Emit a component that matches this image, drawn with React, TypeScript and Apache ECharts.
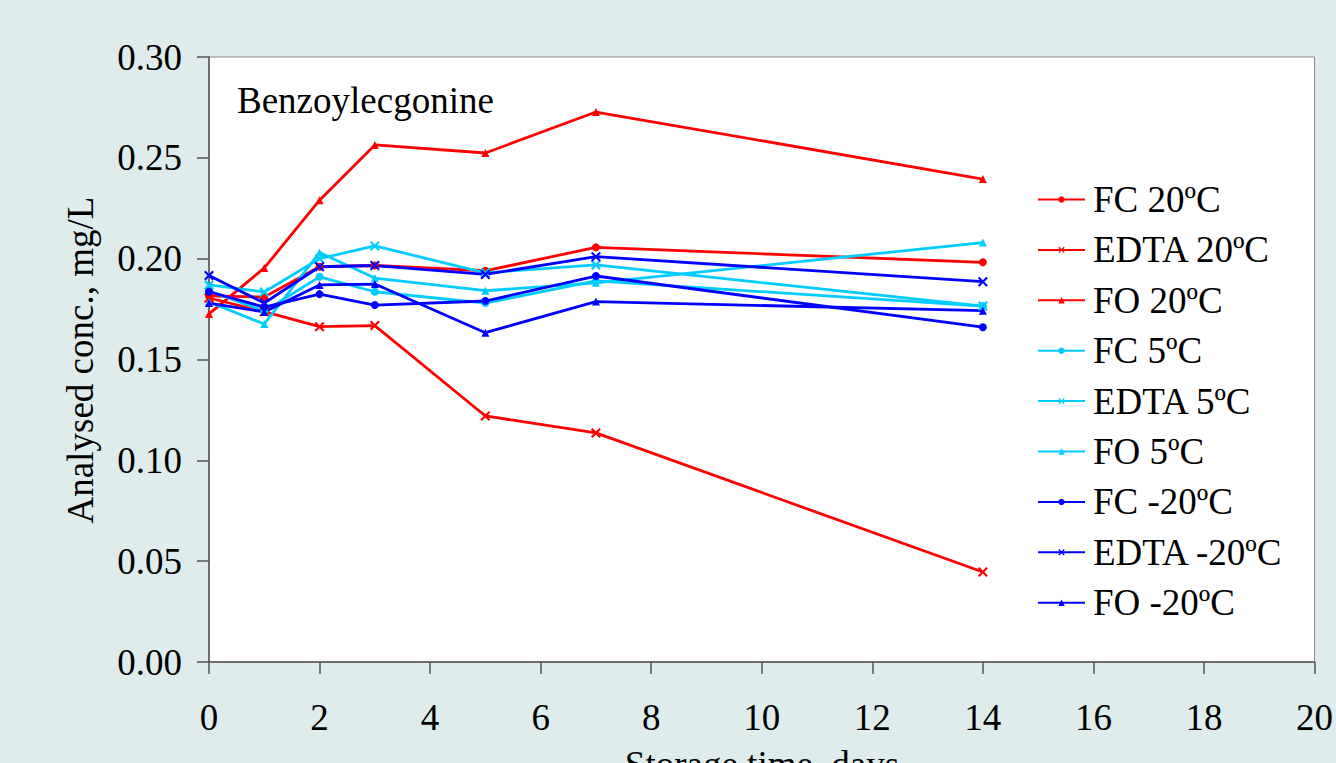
import React, { useEffect, useRef } from "react";
import * as echarts from "echarts";

const days = [0, 1, 2, 3, 5, 7, 14];

const fc20 = [0.1815, 0.181, 0.196, 0.1966, 0.194, 0.2056, 0.1982];
const edta20 = [0.1805, 0.1737, 0.1663, 0.1668, 0.122, 0.1136, 0.0446];
const fo20 = [0.1726, 0.1954, 0.229, 0.2564, 0.2524, 0.2727, 0.2395];
const fc5 = [0.184, 0.174, 0.191, 0.1836, 0.178, 0.189, 0.1765];
const edta5 = [0.187, 0.1835, 0.2, 0.2063, 0.193, 0.1969, 0.1765];
const fo5 = [0.1785, 0.1676, 0.203, 0.1904, 0.1841, 0.188, 0.208];
const fcm20 = [0.1836, 0.176, 0.1824, 0.177, 0.179, 0.1914, 0.166];
const edtam20 = [0.1916, 0.178, 0.196, 0.1966, 0.1922, 0.201, 0.1886];
const fom20 = [0.178, 0.1736, 0.187, 0.1874, 0.1633, 0.1787, 0.1742];

const seriesNames = [
  "FC 20ºC",
  "EDTA 20ºC",
  "FO 20ºC",
  "FC 5ºC",
  "EDTA 5ºC",
  "FO 5ºC",
  "FC -20ºC",
  "EDTA -20ºC",
  "FO -20ºC",
];
const seriesValues = [fc20, edta20, fo20, fc5, edta5, fo5, fcm20, edtam20, fom20];

const RED = "#ff0000";
const CYAN = "#00ccff";
const BLUE = "#0000ff";
const seriesColors = [RED, RED, RED, CYAN, CYAN, CYAN, BLUE, BLUE, BLUE];

const CROSS =
  "path://M0,1.5 L1.5,0 L5,3.5 L8.5,0 L10,1.5 L6.5,5 L10,8.5 L8.5,10 L5,6.5 L1.5,10 L0,8.5 L3.5,5 Z";
const seriesSymbols = [
  "circle", CROSS, "triangle",
  "circle", CROSS, "triangle",
  "circle", CROSS, "triangle",
];
const symbolSizes: Record<string, number> = { circle: 8, triangle: 8, cross: 10 };

const FONT = "'Liberation Serif', 'Times New Roman', serif";

export default function App() {
  const ref = useRef<HTMLDivElement>(null);

  useEffect(() => {
    if (!ref.current) return;
    const chart = echarts.init(ref.current, undefined, { renderer: "svg" });

    const series = seriesNames.map((name, i) => {
      const sym = seriesSymbols[i];
      const key = sym === CROSS ? "cross" : sym;
      return {
        name,
        type: "line",
        data: days.map((d, j) => [d, seriesValues[i][j]]),
        symbol: sym,
        symbolSize: symbolSizes[key],
        showAllSymbol: true,
        lineStyle: { color: seriesColors[i], width: 2.8 },
        itemStyle: { color: seriesColors[i] },
        emphasis: { disabled: true },
      };
    });

    chart.setOption({
      animation: false,
      backgroundColor: "#deecec",
      textStyle: { fontFamily: FONT },
      grid: {
        left: 209,
        top: 57,
        right: 20,
        bottom: 101,
        show: true,
        backgroundColor: "#ffffff",
        borderColor: "#888888",
        borderWidth: 1,
      },
      xAxis: {
        type: "value",
        min: 0,
        max: 20,
        interval: 2,
        axisLine: { show: true, lineStyle: { color: "#555555", width: 1.5 } },
        axisTick: { show: true, length: 12, lineStyle: { color: "#555555", width: 1.5 } },
        splitLine: { show: false },
        axisLabel: {
          color: "#000",
          fontFamily: FONT,
          fontSize: 37,
          margin: 37,
          showMaxLabel: true,
        },
      },
      yAxis: {
        type: "value",
        min: 0,
        max: 0.3,
        interval: 0.05,
        axisLine: { show: true, lineStyle: { color: "#555555", width: 1.5 } },
        axisTick: { show: true, length: 12, lineStyle: { color: "#555555", width: 1.5 } },
        splitLine: { show: false },
        axisLabel: {
          color: "#000",
          fontFamily: FONT,
          fontSize: 37,
          margin: 27,
          formatter: (v: number) => v.toFixed(2),
        },
      },
      legend: {
        orient: "vertical",
        left: 1032,
        top: 176,
        itemWidth: 47,
        itemHeight: 8,
        itemGap: 13.4,
        selectedMode: false,
        textStyle: {
          color: "#000",
          fontFamily: FONT,
          fontSize: 37,
          lineHeight: 37,
          padding: [0, 0, 0, 3],
        },
        data: seriesNames,
      },
      graphic: [
        {
          type: "text",
          left: 237,
          top: 82,
          style: { text: "Benzoylecgonine", fill: "#000", font: `37px ${FONT}` },
        },
        {
          type: "text",
          x: 80,
          y: 360,
          rotation: Math.PI / 2,
          style: {
            text: "Analysed conc., mg/L",
            fill: "#000",
            font: `37px ${FONT}`,
            textAlign: "center",
            textVerticalAlign: "middle",
          },
        },
        {
          type: "text",
          x: 762,
          y: 764,
          style: {
            text: "Storage time, days",
            fill: "#000",
            font: `37px ${FONT}`,
            textAlign: "center",
            textVerticalAlign: "middle",
          },
        },
      ],
      series,
    });

    return () => chart.dispose();
  }, []);

  return (
    <div
      ref={ref}
      style={{ position: "fixed", left: 0, top: 0, width: 1336, height: 763 }}
    />
  );
}
